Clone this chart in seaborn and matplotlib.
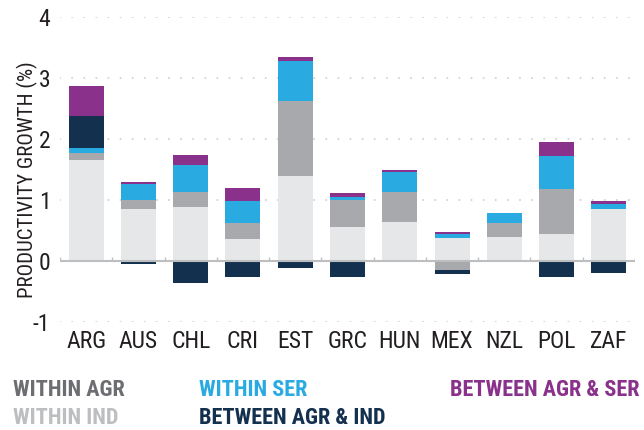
import numpy as np
import pandas as pd
import matplotlib
matplotlib.use("Agg")
import matplotlib.pyplot as plt
from matplotlib import font_manager as fm
import seaborn as sns

# Data
countries = ["ARG", "AUS", "CHL", "CRI", "EST", "GRC", "HUN", "MEX", "NZL", "POL", "ZAF"]
within_agr = [1.66, 0.85, 0.89, 0.36, 1.40, 0.55, 0.64, 0.38, 0.40, 0.44, 0.86]
within_ind = [0.11, 0.15, 0.24, 0.26, 1.22, 0.45, 0.49, -0.15, 0.22, 0.74, 0.00]
within_ser = [0.08, 0.27, 0.45, 0.37, 0.66, 0.05, 0.33, 0.07, 0.16, 0.54, 0.07]
between_agr_ind = [0.53, -0.05, -0.36, -0.27, -0.12, -0.27, 0.00, -0.07, 0.00, -0.27, -0.20]
between_agr_ser = [0.49, 0.02, 0.15, 0.21, 0.06, 0.06, 0.03, 0.03, 0.00, 0.23, 0.06]

components = ["WITHIN AGR", "WITHIN IND", "WITHIN SER", "BETWEEN AGR & IND", "BETWEEN AGR & SER"]
series = [within_agr, within_ind, within_ser, between_agr_ind, between_agr_ser]
bar_colors = ["#e6e7e8", "#a7a9ac", "#29abe2", "#13304f", "#8a318c"]
text_colors = ["#6d6e71", "#bcbec0", "#29abe2", "#13304f", "#8a318c"]

sns.set_style("white")

# pick a condensed face if one is installed
fonts = fm.fontManager.ttflist
names = {f.name for f in fonts}
family, stretch, condensed = "DejaVu Sans", "normal", False
for cand in ["Roboto Condensed", "Noto Sans Condensed", "Open Sans Condensed",
             "Liberation Sans Narrow", "Arial Narrow", "DejaVu Sans Condensed"]:
    if cand in names:
        family, condensed = cand, True
        break
else:
    for cand in ["Noto Sans", "Open Sans", "Roboto", "DejaVu Sans"]:
        if any(f.name == cand and f.stretch in ("condensed", "semi-condensed") for f in fonts):
            family, stretch, condensed = cand, "condensed", True
            break
plt.rcParams["font.family"] = [family, "DejaVu Sans"]
plt.rcParams["font.stretch"] = stretch
k = 1.0 if condensed else 0.8

fig = plt.figure(figsize=(6.44, 4.3), dpi=100)
ax = fig.add_axes([60 / 644, 108 / 430, 575 / 644, 305 / 430])

pos_base = np.zeros(len(countries))
neg_base = np.zeros(len(countries))
for name, vals, col in zip(components, series, bar_colors):
    vals = np.array(vals)
    bottom = np.where(vals >= 0, pos_base, neg_base)
    df = pd.DataFrame({"country": countries, "value": vals})
    sns.barplot(data=df, x="country", y="value", order=countries, color=col,
                saturation=1, width=0.67, bottom=bottom, linewidth=0, ax=ax)
    pos_base += np.where(vals >= 0, vals, 0)
    neg_base += np.where(vals < 0, vals, 0)

ax.set_xlim(-0.5, len(countries) - 0.5)
ax.set_ylim(-1, 4)
ax.set_yticks([-1, 0, 1, 2, 3, 4])
ax.set_yticklabels(["-1", "0", "1", "2", "3", "4"])

# dotted grid lines
for yv in [-1, 1, 2, 3, 4]:
    ax.axhline(yv, color="#d1d3d4", lw=1.5, ls=(0, (0.01, 5.8)),
               dash_capstyle="round", zorder=0)
ax.axhline(0, color="#bcbec0", lw=1.5, zorder=3)
ax.vlines(np.arange(-0.5, len(countries)), 0, 0.07, color="#bcbec0", lw=1, zorder=3)

for s in ax.spines.values():
    s.set_visible(False)
ax.tick_params(axis="both", length=0, labelsize=17 * k, colors="#231f20")
ax.tick_params(axis="y", pad=7)
ax.tick_params(axis="x", pad=6)
ax.set_xlabel("")
ax.set_ylabel("PRODUCTIVITY GROWTH (%)", fontsize=15 * k, color="#231f20")
ax.yaxis.set_label_coords(-0.038, 0.467)

# legend as coloured text
legend_pos = [(13, 390), (13, 418), (199, 390), (199, 418), (450, 390)]
for name, col, (px, py) in zip(components, text_colors, legend_pos):
    fig.text(px / 644, 1 - py / 430, name, color=col, fontsize=16 * k,
             fontweight="bold", ha="left", va="center")

fig.savefig("out.png", dpi=100)
